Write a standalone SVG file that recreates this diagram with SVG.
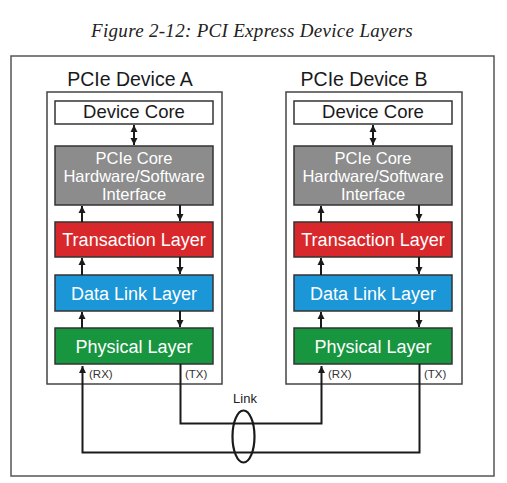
<svg xmlns="http://www.w3.org/2000/svg" width="507" height="483" viewBox="0 0 507 483">
<defs>
<marker id="ah" markerWidth="8" markerHeight="8" refX="7" refY="4" orient="auto-start-reverse" markerUnits="userSpaceOnUse">
<path d="M0,0.5 L7,4 L0,7.5 Z" fill="#1a1a1a"/>
</marker>
<style>
.frame{fill:#fff;stroke:#555;stroke-width:1.5}
.dev{fill:#fff;stroke:#444;stroke-width:1.5}
.box{stroke:#333;stroke-width:1.5}
.lbl{font-family:"Liberation Sans",Arial,sans-serif;text-anchor:middle}
.white{fill:#fff}
.conn{fill:none;stroke:#1a1a1a;stroke-width:2}
.small{font-family:"Liberation Sans",Arial,sans-serif;font-size:11.5px;fill:#333}
</style>
</defs>
<rect width="507" height="483" fill="#fff"/>
<text x="252" y="37" font-family="'Liberation Serif','Times New Roman',serif" font-style="italic" font-size="19" letter-spacing="0.3" text-anchor="middle" fill="#222">Figure 2-12: PCI Express Device Layers</text>
<rect class="frame" x="11" y="56" width="483" height="420"/>

<g id="deviceA">
<text class="lbl" x="130" y="86" font-size="19.5" fill="#1a1a1a">PCIe Device A</text>
<rect class="dev" x="47" y="92" width="175" height="292"/>
<g id="coreA"><rect class="box" x="55" y="101" width="158" height="23" fill="#fff" stroke="#444"/><text class="lbl" x="134" y="118" font-size="18.5" fill="#1a1a1a">Device Core</text></g>
<g id="hwswA"><rect class="box" x="55" y="146" width="158" height="59" fill="#8c8c8c"/><text class="lbl white" font-size="16.5"><tspan x="134" y="163.5">PCIe Core</tspan><tspan x="134" y="181.5">Hardware/Software</tspan><tspan x="134" y="199.5">Interface</tspan></text></g>
<g id="transA"><rect class="box" x="55" y="222" width="158" height="35" fill="#d8282b"/><text class="lbl white" x="134" y="246" font-size="18">Transaction Layer</text></g>
<g id="dllA"><rect class="box" x="55" y="275" width="158" height="36" fill="#1b96d6"/><text class="lbl white" x="134" y="300" font-size="18">Data Link Layer</text></g>
<g id="physA"><rect class="box" x="55" y="328" width="158" height="36" fill="#17963f"/><text class="lbl white" x="134" y="353" font-size="18">Physical Layer</text></g>
<text class="small" x="89" y="378">(RX)</text>
<text class="small" x="185" y="378">(TX)</text>
</g>

<g id="deviceB">
<text class="lbl" x="364" y="86" font-size="19.5" fill="#1a1a1a">PCIe Device B</text>
<rect class="dev" x="286" y="92" width="176" height="292"/>
<g id="coreB"><rect class="box" x="294" y="101" width="158" height="23" fill="#fff" stroke="#444"/><text class="lbl" x="373" y="118" font-size="18.5" fill="#1a1a1a">Device Core</text></g>
<g id="hwswB"><rect class="box" x="294" y="146" width="158" height="59" fill="#8c8c8c"/><text class="lbl white" font-size="16.5"><tspan x="373" y="163.5">PCIe Core</tspan><tspan x="373" y="181.5">Hardware/Software</tspan><tspan x="373" y="199.5">Interface</tspan></text></g>
<g id="transB"><rect class="box" x="294" y="222" width="158" height="35" fill="#d8282b"/><text class="lbl white" x="373" y="246" font-size="18">Transaction Layer</text></g>
<g id="dllB"><rect class="box" x="294" y="275" width="158" height="36" fill="#1b96d6"/><text class="lbl white" x="373" y="300" font-size="18">Data Link Layer</text></g>
<g id="physB"><rect class="box" x="294" y="328" width="158" height="36" fill="#17963f"/><text class="lbl white" x="373" y="353" font-size="18">Physical Layer</text></g>
<text class="small" x="328" y="378">(RX)</text>
<text class="small" x="424" y="378">(TX)</text>
</g>

<g id="connectors">
<line class="conn" x1="134" y1="125" x2="134" y2="145" marker-start="url(#ah)" marker-end="url(#ah)"/>
<line class="conn" x1="82" y1="222" x2="82" y2="206" marker-end="url(#ah)"/>
<line class="conn" x1="180" y1="205" x2="180" y2="221" marker-end="url(#ah)"/>
<line class="conn" x1="82" y1="275" x2="82" y2="258" marker-end="url(#ah)"/>
<line class="conn" x1="180" y1="257" x2="180" y2="274" marker-end="url(#ah)"/>
<line class="conn" x1="82" y1="328" x2="82" y2="312" marker-end="url(#ah)"/>
<line class="conn" x1="180" y1="311" x2="180" y2="327" marker-end="url(#ah)"/>

<line class="conn" x1="373" y1="125" x2="373" y2="145" marker-start="url(#ah)" marker-end="url(#ah)"/>
<line class="conn" x1="321" y1="222" x2="321" y2="206" marker-end="url(#ah)"/>
<line class="conn" x1="419" y1="205" x2="419" y2="221" marker-end="url(#ah)"/>
<line class="conn" x1="321" y1="275" x2="321" y2="258" marker-end="url(#ah)"/>
<line class="conn" x1="419" y1="257" x2="419" y2="274" marker-end="url(#ah)"/>
<line class="conn" x1="321" y1="328" x2="321" y2="312" marker-end="url(#ah)"/>
<line class="conn" x1="419" y1="311" x2="419" y2="327" marker-end="url(#ah)"/>

<path class="conn" d="M180.5,364 V423.5 H321.5 V366" marker-end="url(#ah)"/>
<path class="conn" d="M419.5,364 V452.5 H82.5 V366" marker-end="url(#ah)"/>
<ellipse cx="243.5" cy="436.5" rx="11" ry="26" fill="none" stroke="#1a1a1a" stroke-width="2.2"/>
<text x="245" y="403" font-family="'Liberation Sans',Arial,sans-serif" font-size="13" text-anchor="middle" fill="#222">Link</text>
</g>
</svg>
